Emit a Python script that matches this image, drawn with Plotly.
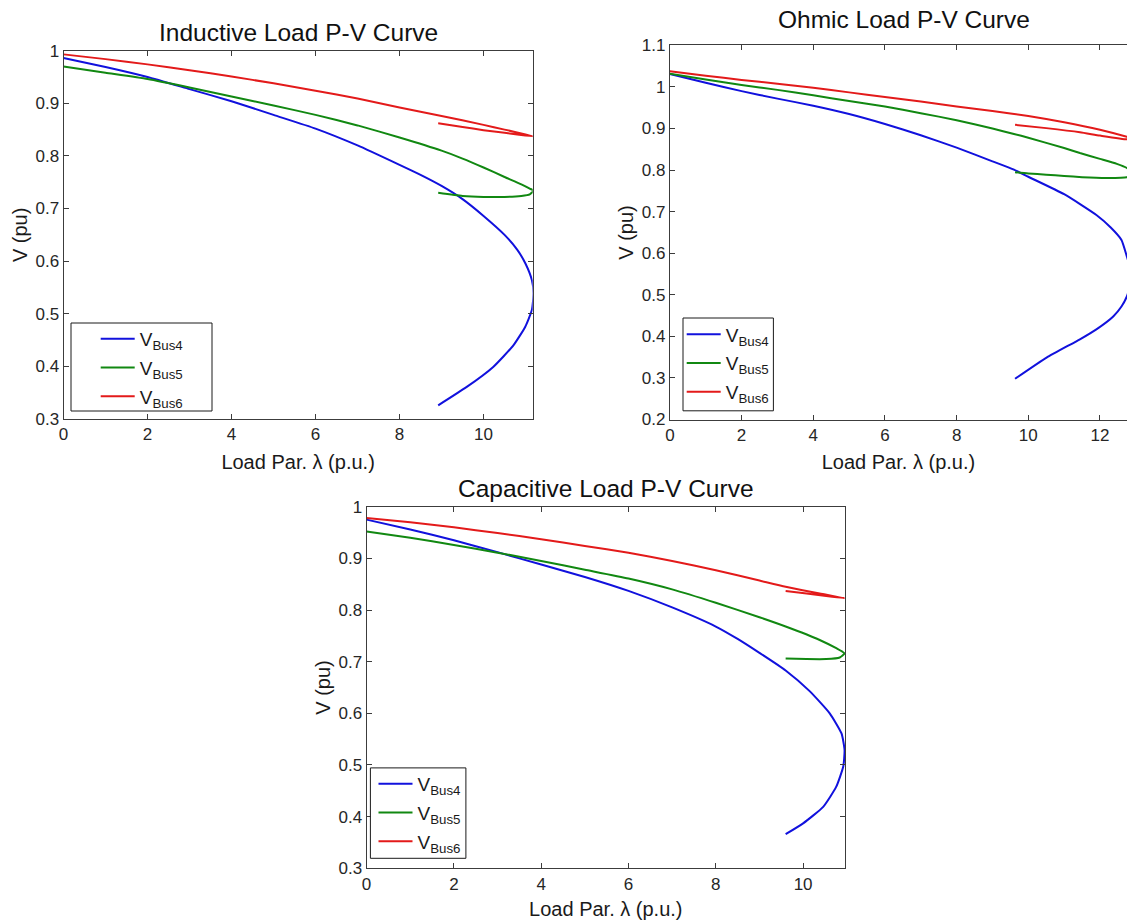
import plotly.graph_objects as go

# ---------------- data ----------------
# Inductive load
ind_b4_lam = [0, 1, 2, 3, 4, 5, 6, 7, 8, 8.5, 9, 9.5, 10, 10.5, 10.8, 11.0, 11.15, 11.19,
              11.15, 10.99, 10.71, 10.23, 9.60, 8.92]
ind_b4_v = [0.986, 0.969, 0.950, 0.927, 0.904, 0.878, 0.852, 0.820, 0.783, 0.764, 0.743, 0.718,
            0.686, 0.650, 0.622, 0.595, 0.564, 0.539,
            0.507, 0.475, 0.440, 0.399, 0.361, 0.326]
ind_b5_lam = [0, 1, 2, 3, 4, 5, 6, 7, 8, 9, 9.5, 10, 10.5, 10.9, 11.1, 11.19,
              11.1, 10.9, 10.5, 10.0, 9.5, 8.92]
ind_b5_v = [0.970, 0.958, 0.946, 0.930, 0.913, 0.896, 0.878, 0.858, 0.835, 0.810, 0.795, 0.778,
            0.760, 0.746, 0.738, 0.734,
            0.727, 0.724, 0.722, 0.722, 0.724, 0.730]
ind_b6_lam = [0, 1, 2, 3, 4, 5, 6, 7, 8, 9, 10, 10.5, 11, 11.19,
              10.5, 10.0, 9.5, 8.92]
ind_b6_v = [0.993, 0.984, 0.974, 0.963, 0.951, 0.938, 0.924, 0.909, 0.892, 0.876, 0.859, 0.850,
            0.841, 0.837,
            0.844, 0.849, 0.855, 0.862]

# Ohmic load
ohm_b4_lam = [0, 1, 2, 3, 4, 5, 6, 7, 8, 9, 9.6, 10, 11, 11.9, 12.3, 12.6, 12.75, 12.9,
              12.75, 12.6, 12.37, 11.9, 11.44, 10.51, 9.63]
ohm_b4_v = [1.031, 1.010, 0.990, 0.972, 0.955, 0.935, 0.911, 0.884, 0.854, 0.821, 0.801, 0.784,
            0.742, 0.692, 0.662, 0.632, 0.592, 0.545,
            0.496, 0.472, 0.448, 0.417, 0.393, 0.349, 0.298]
ohm_b5_lam = [0, 1, 2, 3, 4, 5, 6, 7, 8, 9, 9.6, 10, 11, 11.44, 12, 12.47, 12.75, 12.9,
              12.75, 12.2, 11.5, 11.0, 10.5, 10.0, 9.63]
ohm_b5_v = [1.032, 1.018, 1.005, 0.993, 0.980, 0.966, 0.953, 0.937, 0.920, 0.900, 0.887, 0.878,
            0.853, 0.841, 0.827, 0.815, 0.805, 0.793,
            0.783, 0.781, 0.783, 0.786, 0.789, 0.792, 0.795]
ohm_b6_lam = [0, 1, 2, 3, 4, 5, 6, 7, 8, 9, 10, 11, 12, 12.75, 12.9,
              12.75, 12.0, 11.44, 10.5, 9.63]
ohm_b6_v = [1.038, 1.027, 1.017, 1.008, 0.998, 0.987, 0.976, 0.965, 0.953, 0.942, 0.930, 0.915,
            0.897, 0.880, 0.876,
            0.874, 0.883, 0.891, 0.901, 0.909]

# Capacitive load
cap_b4_lam = [0, 1, 2, 3, 4, 5, 6, 7, 8, 8.5, 9, 9.6, 10.15, 10.61, 10.88, 10.95,
              10.92, 10.76, 10.46, 10.0, 9.60]
cap_b4_v = [0.975, 0.956, 0.935, 0.912, 0.888, 0.864, 0.837, 0.805, 0.768, 0.744, 0.717, 0.683,
            0.643, 0.600, 0.561, 0.529,
            0.497, 0.458, 0.419, 0.387, 0.366]
cap_b5_lam = [0, 1, 2, 3, 4, 5, 6, 7, 8, 9, 9.6, 10.38, 10.76, 10.95,
              10.84, 10.53, 10.08, 9.60]
cap_b5_v = [0.952, 0.940, 0.926, 0.911, 0.895, 0.878, 0.861, 0.840, 0.814, 0.786, 0.768, 0.742,
            0.726, 0.716,
            0.708, 0.705, 0.705, 0.706]
cap_b6_lam = [0, 1, 2, 3, 4, 5, 6, 7, 8, 9, 9.6, 10.38, 10.95,
              10.53, 10.08, 9.60]
cap_b6_v = [0.978, 0.970, 0.960, 0.949, 0.937, 0.924, 0.911, 0.895, 0.877, 0.857, 0.845, 0.832,
            0.823,
            0.827, 0.832, 0.837]

series_names = ["V<sub>Bus4</sub>", "V<sub>Bus5</sub>", "V<sub>Bus6</sub>"]
panel_titles = ["Inductive Load P-V Curve", "Ohmic Load P-V Curve", "Capacitive Load P-V Curve"]
x_title = "Load Par. λ (p.u.)"
y_title = "V (pu)"

x_ticks = [0, 2, 4, 6, 8, 10, 12]
y_ticks_a = [0.3, 0.4, 0.5, 0.6, 0.7, 0.8, 0.9, 1.0]
y_ticks_b = [0.2, 0.3, 0.4, 0.5, 0.6, 0.7, 0.8, 0.9, 1.0, 1.1]

# ---------------- layout helpers ----------------
W, H = 1127, 920
def px(x):
    return x / W
def py(y):
    return 1 - y / H

colors = ["#1111dd", "#118811", "#e31a1a"]
FONT = "Liberation Sans, Arial, Helvetica, sans-serif"

fig = go.Figure()

panels = [
    ("x", "y", "legend", [(ind_b4_lam, ind_b4_v), (ind_b5_lam, ind_b5_v), (ind_b6_lam, ind_b6_v)]),
    ("x2", "y2", "legend2", [(ohm_b4_lam, ohm_b4_v), (ohm_b5_lam, ohm_b5_v), (ohm_b6_lam, ohm_b6_v)]),
    ("x3", "y3", "legend3", [(cap_b4_lam, cap_b4_v), (cap_b5_lam, cap_b5_v), (cap_b6_lam, cap_b6_v)]),
]
for pi, (xa, ya, lg, data) in enumerate(panels):
    for si, (lam, v) in enumerate(data):
        fig.add_trace(go.Scatter(
            x=lam, y=v, mode="lines", name=series_names[si],
            line=dict(color=colors[si], width=2, shape="spline", smoothing=0.5),
            xaxis=xa, yaxis=ya, legend=lg, legendgroup=f"{lg}_{si}",
            hoverinfo="skip",
        ))

def fmt(v):
    s = f"{v:.1f}"
    return s[:-2] if s.endswith(".0") else s

def axis(domain, rng, tickvals, title, standoff, mirror="ticks"):
    return dict(
        domain=domain, range=rng, tickmode="array", tickvals=tickvals,
        ticktext=[fmt(t) for t in tickvals],
        showline=True, linecolor="#3c3c3c", linewidth=1, mirror=mirror,
        ticks="inside", ticklen=5, tickwidth=1, tickcolor="#3c3c3c",
        showgrid=False, zeroline=False, automargin=False,
        tickfont=dict(size=17, color="#262626", family=FONT),
        title=dict(text=title, font=dict(size=20, color="#1a1a1a", family=FONT), standoff=standoff),
    )

# axes pixel boxes: (left, right, top, bottom)
box_ind = (63.5, 532.7, 50.7, 419.0)
box_ohm = (669.9, 1127.0, 45.4, 419.5)
box_cap = (366.6, 845.0, 506.7, 868.3)

def xdom(b):
    return [px(b[0]), min(1.0, px(b[1]))]
def ydom(b):
    return [py(b[3]), py(b[2])]

layout = dict(
    width=W, height=H, margin=dict(l=0, r=0, t=0, b=0),
    paper_bgcolor="white", plot_bgcolor="white",
    font=dict(family=FONT, color="#262626"),
    showlegend=True,
    xaxis=axis(xdom(box_ind), [0, 11.17], x_ticks, x_title, 11),
    yaxis=axis(ydom(box_ind), [0.3, 1.0], y_ticks_a, y_title, 2),
    xaxis2=axis(xdom(box_ohm), [0, 12.754], x_ticks, x_title, 11),
    yaxis2=axis(ydom(box_ohm), [0.2, 1.1], y_ticks_b, y_title, 2, mirror=False),
    xaxis3=axis(xdom(box_cap), [0, 10.96], x_ticks, x_title, 11),
    yaxis3=axis(ydom(box_cap), [0.3, 1.0], y_ticks_a, y_title, 2),
)
layout["xaxis"]["anchor"] = "y"
layout["yaxis"]["anchor"] = "x"
layout["xaxis2"]["anchor"] = "y2"
layout["yaxis2"]["anchor"] = "x2"
layout["xaxis3"]["anchor"] = "y3"
layout["yaxis3"]["anchor"] = "x3"

def legend_cfg(xp, yp):
    return dict(x=px(xp), y=py(yp), xanchor="left", yanchor="top",
                bgcolor="rgba(0,0,0,0)", borderwidth=0, itemwidth=34,
                traceorder="grouped", tracegroupgap=1,
                font=dict(size=19, color="#1a1a1a", family=FONT))

layout["legend"] = legend_cfg(95.7, 320.0)
layout["legend2"] = legend_cfg(681.7, 315.5)
layout["legend3"] = legend_cfg(373.5, 765.0)

# legend boxes (white, framed) drawn over the curves, under the legend entries
legend_boxes = [(71, 323, 212, 411), (683, 318, 773.4, 410.8), (370.4, 767.9, 465.9, 858.3)]
layout["shapes"] = [
    dict(type="rect", xref="paper", yref="paper", x0=px(a), x1=px(c), y0=py(d), y1=py(b),
         line=dict(color="#1a1a1a", width=1), fillcolor="white", layer="above")
    for (a, b, c, d) in legend_boxes
]

title_pos = [(298, 32), (904, 20), (606, 488)]
layout["annotations"] = [
    dict(text=t, x=px(x), y=py(y), xref="paper", yref="paper", showarrow=False,
         xanchor="center", yanchor="middle", font=dict(size=24.5, color="#111111", family=FONT))
    for t, (x, y) in zip(panel_titles, title_pos)
]

fig.update_layout(**layout)
fig.write_html("out.html")
